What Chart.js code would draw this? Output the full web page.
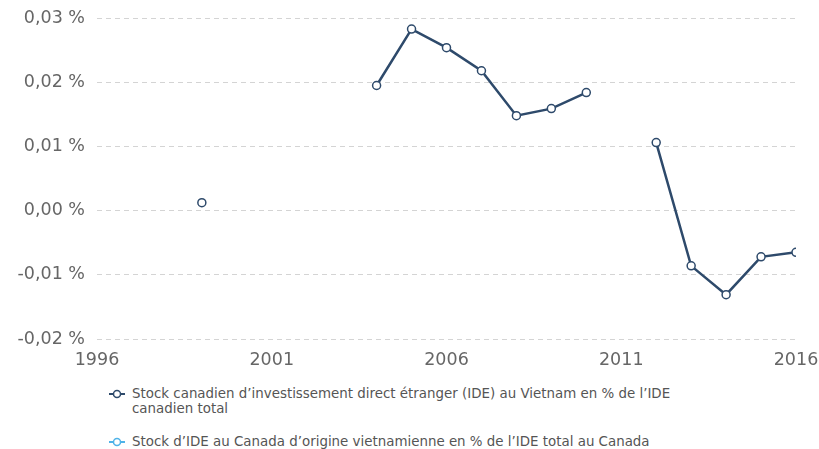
<!DOCTYPE html>
<html>
<head>
  <title>Stock IDE Canada Vietnam</title>
  <script src="https://cdn.jsdelivr.net/npm/chart.js"></script>
  <style>
    body { margin: 0; background: #fff; font-family: "DejaVu Sans", sans-serif; }
    #wrap { position: relative; width: 819px; height: 371px; }
    .legend { position: absolute; left: 0; top: 380px; width: 819px; font-size: 13.4px; color: #555; }
    .item { position: absolute; left: 132px; width: 560px; line-height: 15px; }
    .icon { position: absolute; left: -23px; top: 2px; }
  </style>
</head>
<body>
  <div id="wrap"><canvas id="chart"></canvas></div>
  <div class="legend">
    <div class="item" style="top:6px">
      <svg class="icon" width="16" height="12"><line x1="0" y1="6" x2="16" y2="6" stroke="#2e4a6b" stroke-width="2"/><circle cx="8" cy="6" r="3.5" fill="#fff" stroke="#2e4a6b" stroke-width="1.5"/></svg>
      Stock canadien d’investissement direct étranger (IDE) au Vietnam en % de l’IDE canadien total
    </div>
    <div class="item" style="top:54px">
      <svg class="icon" width="16" height="12"><line x1="0" y1="6" x2="16" y2="6" stroke="#4fb3e8" stroke-width="2"/><circle cx="8" cy="6" r="3.5" fill="#fff" stroke="#4fb3e8" stroke-width="1.5"/></svg>
      Stock d’IDE au Canada d’origine vietnamienne en % de l’IDE total au Canada
    </div>
  </div>

  <script>
    const years = [1999, 2000, 2001, 2002, 2003, 2004, 2005, 2006, 2007, 2008, 2009, 2010, 2011, 2012, 2013, 2014, 2015, 2016];
    const canInVietnam = [0.00125, null, null, null, null, 0.0195, 0.0283, 0.0254, 0.0218, 0.0148, 0.0159, 0.0184, null, 0.0106, -0.0086, -0.0131, -0.0072, -0.0065];
    const vietInCanada = [null, null, null, null, null, null, null, null, null, null, null, null, null, null, null, null, null, null];

    function fmtPct(v) {
      const r = Math.round(v * 100) / 100;
      return (r === 0 ? '0.00' : r.toFixed(2)).replace('.', ',') + ' %';
    }

    new Chart(document.getElementById('chart'), {
      type: 'line',
      data: {
        datasets: [{
          label: 'Stock canadien',
          data: years.map((y, i) => ({ x: y, y: canInVietnam[i] })),
          borderColor: '#2e4a6b',
          borderWidth: 2.5,
          pointRadius: 4,
          pointBorderWidth: 1.5,
          pointBackgroundColor: '#fff',
          pointBorderColor: '#2e4a6b',
          spanGaps: false
        }, {
          label: 'Stock vietnamien',
          data: years.map((y, i) => ({ x: y, y: vietInCanada[i] })),
          borderColor: '#4fb3e8',
          pointBackgroundColor: '#fff',
          spanGaps: false
        }]
      },
      options: {
        responsive: true,
        maintainAspectRatio: false,
        animation: false,
        layout: { padding: { left: 0, right: 23, top: 0, bottom: 0 } },
        plugins: { legend: { display: false }, tooltip: { enabled: false } },
        scales: {
          x: {
            type: 'linear',
            min: 1996,
            max: 2016,
            border: { display: false },
            grid: { display: false },
            ticks: {
              stepSize: 5,
              color: '#666',
              font: { family: 'DejaVu Sans', size: 17.5 },
              padding: 3,
              maxRotation: 0,
              callback: v => String(v)
            },
            afterFit: s => { s.height = 32; s.paddingLeft = 0; s.paddingRight = 0; }
          },
          y: {
            min: -0.02,
            max: 0.03,
            border: { display: false, dash: [5, 4] },
            grid: { color: '#d4d4d4', lineWidth: 1, drawTicks: false },
            ticks: {
              stepSize: 0.01,
              color: '#666',
              font: { family: 'DejaVu Sans', size: 17.5, lineHeight: 0.7 },
              padding: 12,
              callback: v => fmtPct(v)
            },
            afterFit: s => { s.width = 97; }
          }
        }
      }
    });
  </script>
</body>
</html>
